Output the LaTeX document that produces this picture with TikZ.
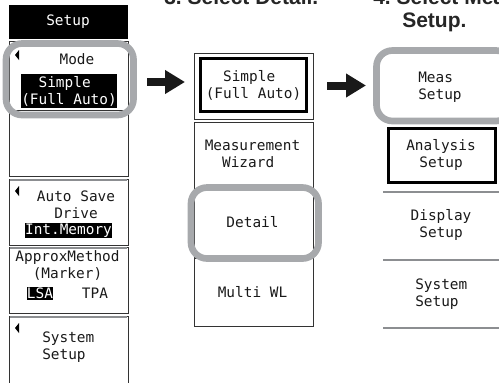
\documentclass[tikz,border=0pt]{standalone}
\usepackage{fontspec}
\setmainfont{Liberation Sans}
\newfontfamily\lcdfont{DejaVu Sans Mono}
\usetikzlibrary{arrows.meta}
\definecolor{ringgray}{HTML}{A7A9AC}
\definecolor{edgegray}{HTML}{8C8E91}
\tikzset{
  keytext/.style={font=\lcdfont\fontsize{10.8}{12.75}\selectfont, inner sep=0pt, text=black!90},
  keybox/.style={draw=black!80, line width=0.6pt},
  keytop/.style={draw=edgegray, line width=1.2pt},
  pressed/.style={draw=black, line width=2.25pt},
  sepline/.style={draw=edgegray, line width=1.5pt},
  ring/.style={draw=ringgray, line width=5pt, rounded corners=12pt},
  bigarrow/.style={draw=black!90, line width=6pt, -{Triangle[length=15pt,width=17pt]}},
  headtext/.style={font=\fontsize{15.75}{17}\selectfont\bfseries, anchor=base west, inner sep=0pt, text=black!85},
  inverse/.style={keytext, fill=black, text=white},
}
\begin{document}
\begin{tikzpicture}[x=0.75pt,y=-0.75pt]
\useasboundingbox (0,0) rectangle (499,382);

% step headings (cut at the top edge)
\node[headtext] (step3) at (164,4) {3.\ Select Detail.};
\node[headtext] (step4) at (373,4) {4.\ Select Meas};
\node[headtext] (step4b) at (402,27) {Setup.};

% left soft-key panel
\fill[black] (9,5) rectangle (128,39);
\node[keytext, text=white] (hdr) at (68,22) {Setup};
\draw[keybox] (9,41) rectangle (128,110);
\draw[keybox] (9,110) rectangle (128,176);
\draw[keybox] (9,179) rectangle (128,245);
\draw[keybox] (9,247) rectangle (128,313);
\draw[keybox] (9,316) rectangle (128,390);
\draw[keytop] (10,180) -- (127,180);
\draw[keytop] (10,248) -- (127,248);
\draw[keytop] (10,317) -- (127,317);
\fill (15,55) -- (19,50) -- (19,60) -- cycle;
\fill (15,191) -- (19,186) -- (19,196) -- cycle;
\fill (15,328) -- (19,323) -- (19,333) -- cycle;

\node[keytext] (mode) at (77,59) {Mode};
\node[inverse, align=left, minimum width=72pt, minimum height=25.5pt] (simplel) at (69,91)
  {\phantom{xx}Simple\\(Full Auto)};
\node[keytext, align=center] (autosave) at (76,205) {Auto Save\\Drive};
\node[inverse, minimum width=65.25pt, minimum height=11.25pt] (intmem) at (68.5,230.5) {Int.Memory};
\node[keytext, align=center] (approx) at (67.5,265.5) {ApproxMethod\\(Marker)};
\node[inverse, minimum width=19.5pt, minimum height=9.75pt] (lsa) at (40,293.5) {LSA};
\node[keytext] (tpa) at (95,293.5) {TPA};
\node[keytext, align=left, anchor=west] (syskey) at (42,347.5) {System\\Setup};

\draw[ring] (6,43.5) rectangle (133.5,115);

% middle column: mode menu
\draw[keybox] (194,53) rectangle (313,119);
\draw[pressed] (200,58.5) rectangle (306,111);
\node[keytext, align=left] (simplem) at (253.5,85) {\phantom{xx}Simple\\(Full Auto)};
\draw[keybox] (194,122) rectangle (313,190);
\node[keytext, align=left] (wizard) at (252.5,154) {Measurement\\\phantom{xx}Wizard};
\draw[keybox] (194,190) rectangle (313,258);
\node[keytext] (detail) at (252.5,222.5) {Detail};
\draw[keybox] (194,258) rectangle (313,326);
\node[keytext] (multiwl) at (252.5,292.5) {Multi WL};

\draw[ring] (191,187.5) rectangle (318.5,258.5);

% right column: setup menu
\node[keytext, align=left, anchor=west] (meas) at (418,87) {Meas\\Setup};
\draw[pressed] (388.5,128) rectangle (495,182);
\node[keytext, align=center] (analysis) at (441,155) {Analysis\\Setup};
\draw[sepline] (383,192) -- (499,192);
\node[keytext, align=center] (display) at (441,224.5) {Display\\Setup};
\draw[sepline] (383,260) -- (499,260);
\node[keytext, align=left, anchor=west] (sysmenu) at (415,294.5) {System\\Setup};
\draw[sepline] (383,328) -- (499,328);

\draw[ring] (376.5,50.5) rectangle (512,121);

% arrows between the menus
\coordinate (arrAs) at (147,82);
\coordinate (arrAe) at (185,82);
\coordinate (arrBs) at (327,85.5);
\coordinate (arrBe) at (366,85.5);
\draw[bigarrow] (arrAs) -- (arrAe);
\draw[bigarrow] (arrBs) -- (arrBe);
\end{tikzpicture}
\end{document}
